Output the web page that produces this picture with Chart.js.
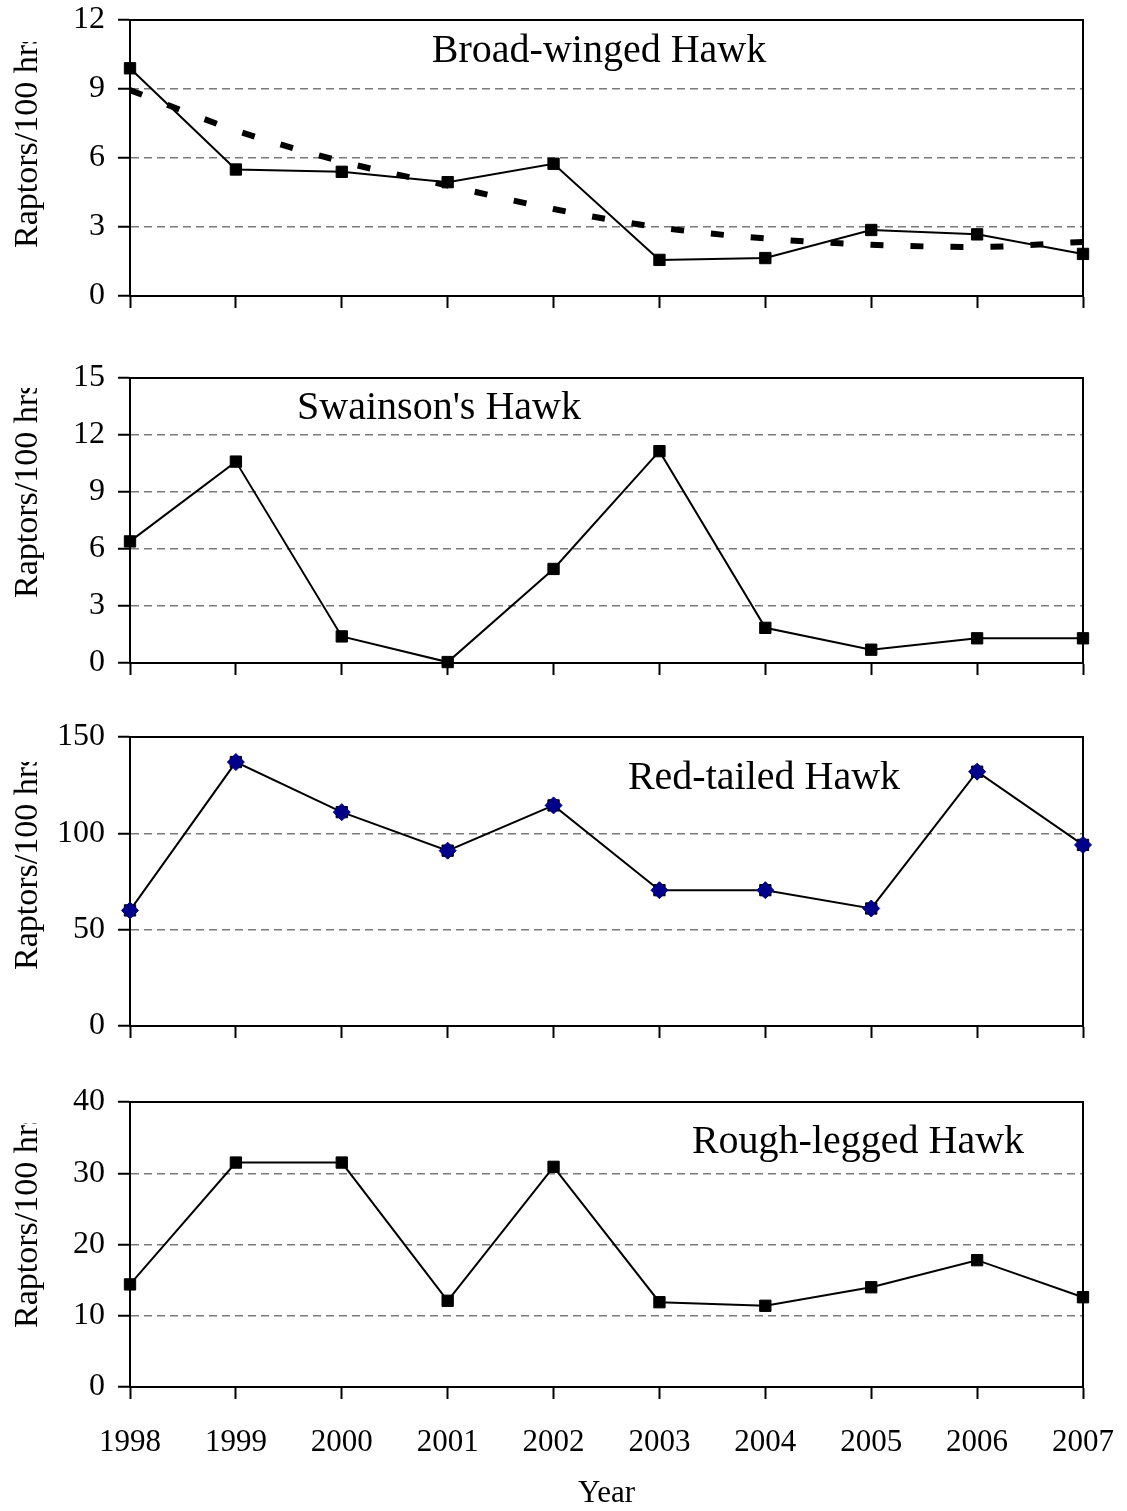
<!DOCTYPE html>
<html>
<head>
<meta charset="utf-8">
<title>Raptors per 100 hours, 1998-2007</title>
<script src="https://cdn.jsdelivr.net/npm/chart.js@4.4.1/dist/chart.umd.min.js"></script>
<style>
  body { margin: 0; background: #fff; }
  .panel { position: absolute; left: 0; width: 1127px; }
</style>
</head>
<body>
<div class="panel" style="top:0px;height:336px"><canvas id="broad-winged"></canvas></div>
<div class="panel" style="top:358px;height:345px"><canvas id="swainsons"></canvas></div>
<div class="panel" style="top:717px;height:349px"><canvas id="red-tailed"></canvas></div>
<div class="panel" style="top:1082px;height:429px"><canvas id="rough-legged"></canvas></div>
<script>
// Data
const years = ['1998', '1999', '2000', '2001', '2002', '2003', '2004', '2005', '2006', '2007'];

const broadWinged = [9.9, 5.5, 5.4, 4.95, 5.75, 1.57, 1.65, 2.87, 2.68, 1.83];
const broadWingedTrend = [8.95, 7.2, 5.85, 4.8, 3.78, 2.98, 2.5, 2.23, 2.13, 2.35];
const swainsons = [6.4, 10.6, 1.4, 0.05, 4.95, 11.15, 1.85, 0.7, 1.3, 1.3];
const redTailed = [60, 137, 111, 91, 114.5, 70.5, 70.5, 61, 132, 94];
const roughLegged = [14.4, 31.5, 31.5, 12.1, 30.9, 11.9, 11.4, 14.0, 17.8, 12.6];

// y axis ranges: [max, step]
const broadWingedAxis = [12, 3];
const swainsonsAxis = [15, 3];
const redTailedAxis = [150, 50];
const roughLeggedAxis = [40, 10];

const yAxisTitle = 'Raptors/100 hrs';
const xAxisTitle = 'Year';

const serif = '"Liberation Serif", "Times New Roman", serif';
Chart.defaults.font.family = serif;
Chart.defaults.color = '#000';

/**
 * Draws the box round the plot, the species name and the clipped y title
 */
const panelDecor = {
  id: 'panelDecor',
  beforeDatasetsDraw(chart) {
    const { ctx, chartArea: a } = chart;
    ctx.save();
    ctx.strokeStyle = '#000';
    ctx.lineWidth = 2;
    ctx.strokeRect(a.left, a.top, a.right - a.left, a.bottom - a.top);
    ctx.restore();
  },
  afterDraw(chart, args, opts) {
    const { ctx } = chart;
    ctx.save();
    ctx.fillStyle = '#000';
    ctx.font = '40px ' + serif;
    ctx.textAlign = 'center';
    ctx.textBaseline = 'alphabetic';
    ctx.fillText(opts.label, opts.labelX, opts.labelY);

    // the original cuts the last letter of the axis title off
    ctx.beginPath();
    ctx.rect(0, opts.titleClip, 80, chart.height);
    ctx.clip();
    ctx.translate(37, opts.titleStart);
    ctx.rotate(-Math.PI / 2);
    ctx.font = '34px ' + serif;
    ctx.textAlign = 'left';
    ctx.fillText(yAxisTitle, 0, 0);
    ctx.restore();
  },
};

/**
 * Creates one of the four stacked panels
 */
function createPanel(id, datasets, axis, decor, isLast) {
  const canvas = document.getElementById(id);
  return new Chart(canvas.getContext('2d'), {
    type: 'line',
    data: { labels: years, datasets },
    plugins: [panelDecor],
    options: {
      responsive: true,
      maintainAspectRatio: false,
      animation: false,
      layout: { padding: { top: 20, right: 44, left: 0, bottom: 0 } },
      plugins: {
        legend: { display: false },
        tooltip: { enabled: false },
        panelDecor: decor,
      },
      scales: {
        x: {
          offset: false,
          grid: {
            drawOnChartArea: false,
            tickLength: 12,
            tickWidth: 2,
            tickColor: '#000',
          },
          border: { color: '#000', width: 2 },
          ticks: {
            display: isLast,
            padding: 25,
            maxRotation: 0,
            font: { size: 31 },
          },
          title: {
            display: isLast,
            text: xAxisTitle,
            font: { size: 31, lineHeight: 1.1 },
            padding: { top: 0, bottom: 0 },
          },
          afterFit: (scale) => {
            scale.height = isLast ? 124 : 40;
            // keep the plot edges where the layout padding puts them
            scale.paddingLeft = 0;
            scale.paddingRight = 0;
          },
        },
        y: {
          min: 0,
          max: axis[0],
          grid: {
            color: '#7a7a7a',
            lineWidth: 1.5,
            tickLength: 12,
            tickWidth: 2,
            tickColor: '#000',
          },
          border: { color: '#000', width: 2, dash: [8, 5] },
          ticks: {
            stepSize: axis[1],
            padding: 13,
            font: { size: 32 },
          },
          afterFit: (scale) => {
            scale.width = 130;
            scale.paddingTop = 0;
            scale.paddingBottom = 0;
          },
        },
      },
    },
  });
}

function seriesLine(data) {
  return {
    data,
    order: 1,
    borderColor: '#000',
    borderWidth: 2,
    pointStyle: 'rect',
    pointRadius: 8,
    pointBorderWidth: 1,
    pointBackgroundColor: '#000',
    pointBorderColor: '#000',
    tension: 0,
    clip: false,
  };
}

const charts = [];

charts.push(createPanel('broad-winged', [
  seriesLine(broadWinged),
  {
    data: broadWingedTrend,
    order: 2,
    borderColor: '#000',
    borderWidth: 6,
    borderDash: [13, 27],
    borderCapStyle: 'butt',
    pointRadius: 0,
    cubicInterpolationMode: 'monotone',
    clip: false,
  },
], broadWingedAxis, {
  label: 'Broad-winged Hawk', labelX: 599, labelY: 62, titleStart: 248, titleClip: 42,
}, false));

charts.push(createPanel('swainsons', [
  seriesLine(swainsons),
], swainsonsAxis, {
  label: "Swainson's Hawk", labelX: 439, labelY: 61, titleStart: 240, titleClip: 30,
}, false));

// Navy diamonds sit on top of the black squares
charts.push(createPanel('red-tailed', [
  seriesLine(redTailed),
  {
    data: redTailed,
    order: 0,
    showLine: false,
    pointStyle: 'rectRot',
    pointRadius: 8.5,
    pointBorderWidth: 1,
    pointBackgroundColor: '#00008b',
    pointBorderColor: '#00008b',
    clip: false,
  },
], redTailedAxis, {
  label: 'Red-tailed Hawk', labelX: 764, labelY: 72, titleStart: 253, titleClip: 45,
}, false));

charts.push(createPanel('rough-legged', [
  seriesLine(roughLegged),
], roughLeggedAxis, {
  label: 'Rough-legged Hawk', labelX: 858, labelY: 71, titleStart: 246, titleClip: 41,
}, true));
</script>
</body>
</html>
